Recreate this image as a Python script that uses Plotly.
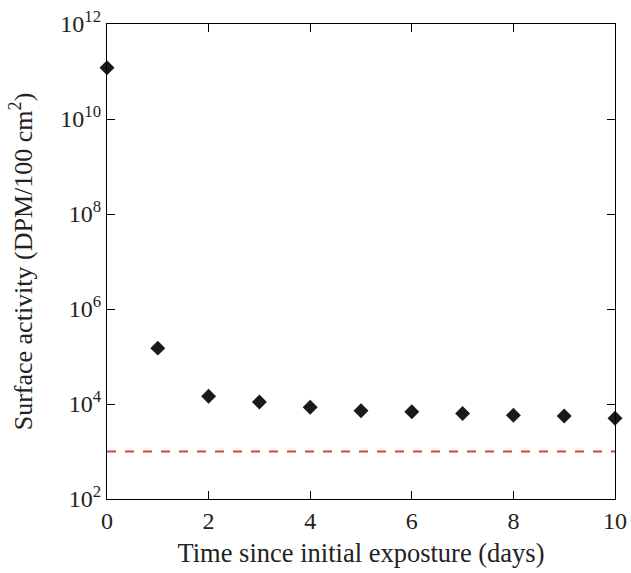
import plotly.graph_objects as go

days = [0, 1, 2, 3, 4, 5, 6, 7, 8, 9, 10]
activity = [1.2e11, 1.5e5, 1.45e4, 1.1e4, 8.5e3, 7.2e3, 6.9e3, 6.3e3, 5.8e3, 5.6e3, 5.0e3]
limit_value = 1000
x_ticks = [0, 2, 4, 6, 8, 10]
y_ticks = [1e2, 1e4, 1e6, 1e8, 1e10, 1e12]
y_ticktext = ["10<sup>2</sup>", "10<sup>4</sup>", "10<sup>6</sup>", "10<sup>8</sup>", "10<sup>10</sup>", "10<sup>12</sup>"]

fig = go.Figure()
fig.add_trace(go.Scatter(x=[0, 10], y=[limit_value, limit_value], mode="lines",
                         line=dict(color="#e03c3c", width=2, dash="dash"), showlegend=False, cliponaxis=False))
fig.add_trace(go.Scatter(x=days, y=activity, mode="markers",
                         marker=dict(symbol="diamond", size=11.5, color="#1a1a1a"),
                         showlegend=False, cliponaxis=False))

axis_common = dict(showline=True, linecolor="black", linewidth=1.2, mirror="ticks",
                   ticks="inside", ticklen=8, tickcolor="black", showgrid=False, zeroline=False,
                   automargin=False,
                   tickfont=dict(family="Liberation Serif", size=24, color="#222"))

fig.update_layout(
    width=631, height=573,
    margin=dict(l=107, r=16, t=24, b=74),
    plot_bgcolor="white", paper_bgcolor="white",
    font=dict(family="Liberation Serif", color="#222"),
    xaxis=dict(range=[0, 10], tickvals=x_ticks, title=dict(text="Time since initial exposture (days)",
               font=dict(family="Liberation Serif", size=26.5), standoff=10), **axis_common),
    yaxis=dict(type="log", range=[2, 12], tickvals=y_ticks, ticktext=y_ticktext,
               title=dict(text="Surface activity (DPM/100 cm<sup>2</sup>)",
                          font=dict(family="Liberation Serif", size=26), standoff=20), **axis_common),
)

fig.write_html("out.html")
